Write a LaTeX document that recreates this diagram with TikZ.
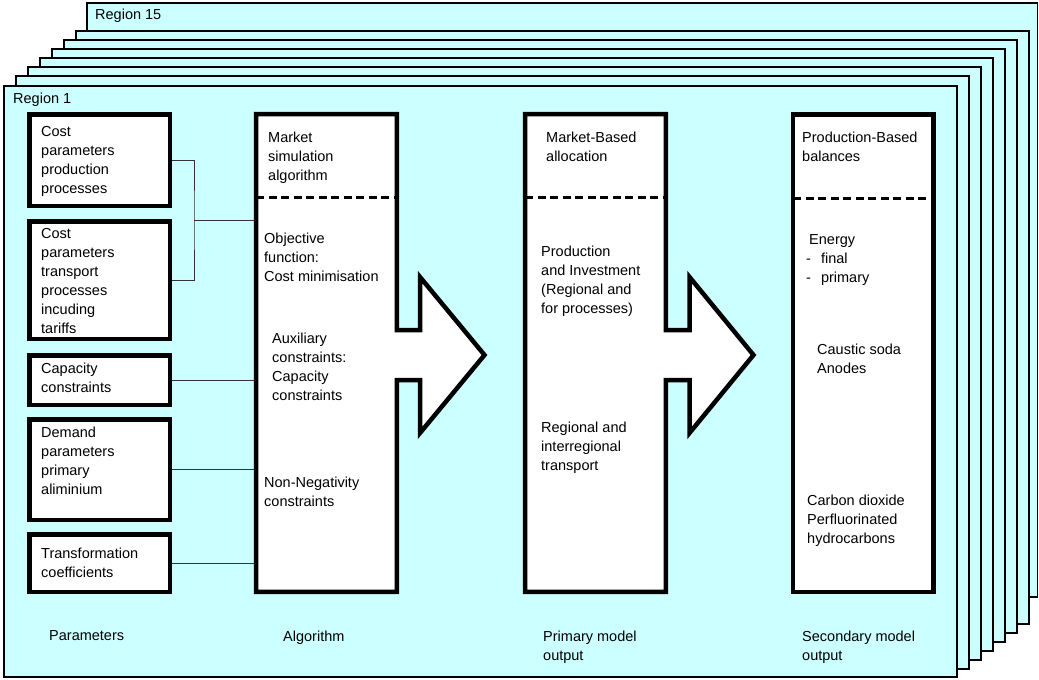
\documentclass[tikz,border=0pt]{standalone}
\usepackage{fontspec}
\setmainfont{Liberation Sans}
\definecolor{pagecyan}{HTML}{CCFFFF}
\begin{document}
\begin{tikzpicture}[x=1pt,y=-1pt,
  page/.style={draw=black,line width=1.4pt,fill=pagecyan},
  parbox/.style={draw=black,line width=4.5pt,fill=white,minimum width=140.5pt,inner sep=0pt},
  colbox/.style={minimum width=140.5pt,minimum height=477.5pt,inner sep=0pt},
  txt/.style={anchor=north west,align=left,inner sep=0pt,font=\fontsize{14.5}{19}\selectfont},
  link/.style={draw=black!80,line width=1pt},
  divider/.style={line width=3pt,dash pattern=on 8pt off 4.5pt},
  outline/.style={draw=black,line width=4.5pt,fill=white,miter limit=10}
]
\useasboundingbox (0,0) rectangle (1039,680);

% stack of regional sheets, back to front
\path[page] (87,3) rectangle (1037.5,597);
\foreach \i in {6,...,1}
  \path[page] ({4+12*\i},{85-9*\i}) rectangle ({957+12*\i},{678-9*\i});
\path[page,line width=2pt] (4,85.5) rectangle (957,677);

\node[txt] (r15) at (95,9) {Region 15};
\node[txt] (r1) at (13,93) {Region 1};

% column frames (named, outlines drawn below)
\node[colbox] (alg) at (326.5,353) {};
\node[colbox] (prim) at (595.5,353) {};

% parameter boxes
\node[parbox,minimum height=91.5pt] (p1) at (99.5,160) {};
\node[parbox,minimum height=117.5pt] (p2) at (99.5,280) {};
\node[parbox,minimum height=49.5pt] (p3) at (99.5,380) {};
\node[parbox,minimum height=100.5pt] (p4) at (99.5,469.5) {};
\node[parbox,minimum height=57.5pt] (p5) at (99.5,563) {};

% links from parameters to the algorithm
\coordinate (brk) at (194,220);
\draw[link] (p1.east) -| (brk) |- (p2.east);
\draw[link] (brk) -- (brk -| alg.west);
\draw[link] (p3.east) -- (p3.east -| alg.west);
\draw[link] (p4.east) -- (p4.east -| alg.west);
\draw[link] (p5.east) -- (p5.east -| alg.west);

% algorithm column with its outgoing arrow
\path[outline] (alg.north west) -- (alg.north east) -- (396.75,330) -- (420,330)
  -- (420,277) -- (484.5,355) -- (420,433) -- (420,380) -- (396.75,380)
  -- (alg.south east) -- (alg.south west) -- cycle;
% primary output column with its outgoing arrow
\path[outline] (prim.north west) -- (prim.north east) -- (665.75,330) -- (689.5,330)
  -- (689.5,277) -- (753.5,355) -- (689.5,433) -- (689.5,380) -- (665.75,380)
  -- (prim.south east) -- (prim.south west) -- cycle;
% secondary output column
\node[parbox,minimum height=477.5pt] (sec) at (863,353) {};

\draw[divider] (256.25,197) -- (396.75,197);
\draw[divider] (525.25,197) -- (665.75,197);
\draw[divider] (793.25,198) -- (932.75,198);

% parameter texts
\node[txt] (t1) at (41,126) {Cost\\parameters\\production\\processes};
\node[txt] (t2) at (41,228) {Cost\\parameters\\transport\\processes\\incuding\\tariffs};
\node[txt] (t3) at (41,363) {Capacity\\constraints};
\node[txt] (t4) at (41,427) {Demand\\parameters\\primary\\aliminium};
\node[txt] (t5) at (41,548) {Transformation\\coefficients};
\node[txt] (lpar) at (49,630) {Parameters};

% algorithm texts
\node[txt] (a1) at (268,132) {Market\\simulation\\algorithm};
\node[txt] (a2) at (264,233) {Objective\\function:\\Cost minimisation};
\node[txt] (a3) at (272,333) {Auxiliary\\constraints:\\Capacity\\constraints};
\node[txt] (a4) at (264,477) {Non-Negativity\\constraints};
\node[txt] (lalg) at (283,631) {Algorithm};

% primary output texts
\node[txt] (b1) at (546,132) {Market-Based\\allocation};
\node[txt] (b2) at (541,246) {Production\\and Investment\\(Regional and\\for processes)};
\node[txt] (b3) at (541,422) {Regional and\\interregional\\transport};
\node[txt] (lprim) at (543,631) {Primary model\\output};

% secondary output texts
\node[txt] (c1) at (802,132) {Production-Based\\balances};
\node[txt] (c2) at (806,234) {\hspace{3pt}Energy\\-\hspace{10pt}final\\-\hspace{10pt}primary};
\node[txt] (c3) at (817,344) {Caustic soda\\Anodes};
\node[txt] (c4) at (807,495) {Carbon dioxide\\Perfluorinated\\hydrocarbons};
\node[txt] (lsec) at (802,631) {Secondary model\\output};
\end{tikzpicture}
\end{document}
